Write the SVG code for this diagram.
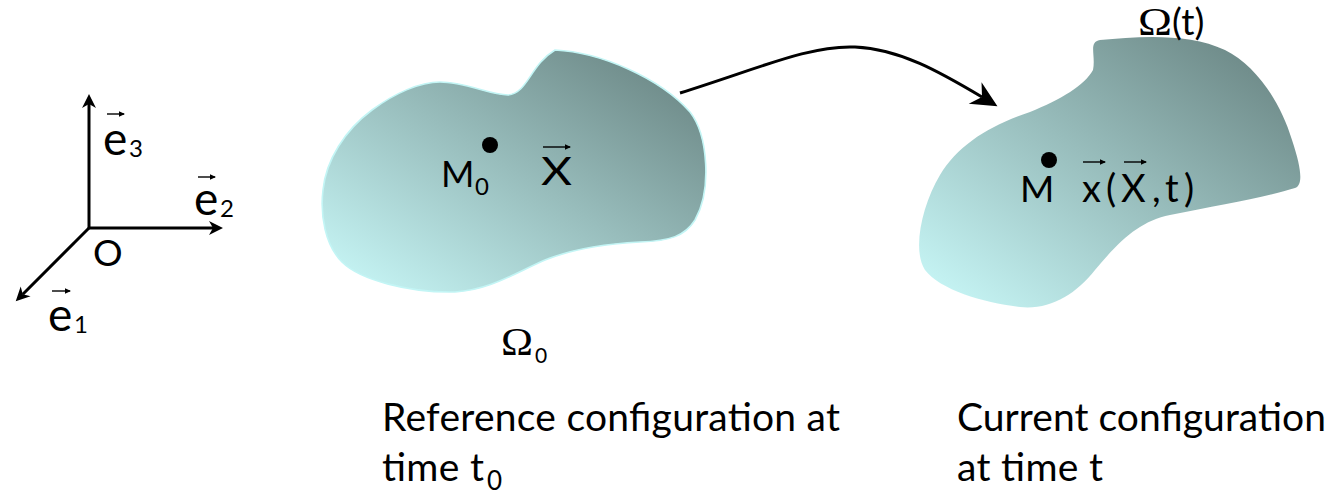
<svg xmlns="http://www.w3.org/2000/svg" width="1333" height="494" viewBox="0 0 1333 494">
  <style>
    .txt { font-family: Lato, "Open Sans", "Liberation Sans", sans-serif; fill: #000; }
    .serif { font-family: "Liberation Serif", "DejaVu Serif", serif; fill: #000; }
    .axis { stroke: #000; stroke-width: 3; fill: none; marker-end: url(#axHead); }
    .vec { stroke: #000; stroke-width: 1.4; fill: none; marker-end: url(#vecHead); }
    .map { stroke: #000; stroke-width: 3; fill: none; marker-end: url(#bigHead); }
  </style>
  <defs>
    <linearGradient id="bodyGrad" x1="0" y1="1" x2="1" y2="0">
      <stop offset="0" stop-color="#cbfbfb"/>
      <stop offset="0.5" stop-color="#98bdbc"/>
      <stop offset="1" stop-color="#647e7c"/>
    </linearGradient>
    <marker id="axHead" markerUnits="userSpaceOnUse" viewBox="-15 -8 16 16" refX="-10" refY="0" markerWidth="16" markerHeight="16" orient="auto" overflow="visible">
      <path d="M0,0 L-14,-7 L-10,0 L-14,7 Z" fill="#000"/>
    </marker>
    <marker id="vecHead" markerUnits="userSpaceOnUse" viewBox="-7 -4 8 8" refX="-1" refY="0" markerWidth="8" markerHeight="8" orient="auto" overflow="visible">
      <path d="M0,0 L-6,-2.8 L-6,2.8 Z" fill="#000"/>
    </marker>
    <marker id="bigHead" markerUnits="userSpaceOnUse" viewBox="-27 -14 28 28" refX="-18" refY="0" markerWidth="28" markerHeight="28" orient="auto" overflow="visible">
      <path d="M0,0 L-26,-12.5 L-18,0 L-26,12.5 Z" fill="#000"/>
    </marker>
  </defs>

  <g id="axes">
    <line class="axis" x1="89" y1="228" x2="89" y2="104"/>
    <line class="axis" x1="89" y1="228" x2="213" y2="228"/>
    <line class="axis" x1="89" y1="228" x2="22.8" y2="294.2"/>
    <g id="label-e3">
      <line class="vec" x1="107" y1="114" x2="124" y2="114"/>
      <text class="txt" x="103" y="155" font-size="46">e</text>
      <text class="txt" x="129" y="157" font-size="24">3</text>
    </g>
    <g id="label-e2">
      <line class="vec" x1="198" y1="177" x2="215" y2="177"/>
      <text class="txt" x="194" y="215" font-size="46">e</text>
      <text class="txt" x="220" y="217" font-size="24">2</text>
    </g>
    <g id="label-e1">
      <line class="vec" x1="52" y1="291" x2="70" y2="291"/>
      <text class="txt" x="48" y="331" font-size="46">e</text>
      <text class="txt" x="74" y="333" font-size="24">1</text>
    </g>
    <text id="label-O" class="txt" x="93" y="266" font-size="37">O</text>
  </g>

  <g id="reference-body">
    <path d="M555,50 C600,52 660,78 690,112 C708,135 712,190 695,220 C685,236 670,241 640,242 C600,244 570,250 545,260 C515,273 490,290 455,292 C410,293 360,280 342,262 C325,245 320,215 323,190 C326,160 345,130 372,110 C395,93 420,82 440,82 C465,82 490,95 508,95 C528,93 530,65 555,50 Z" fill="url(#bodyGrad)" stroke="#c3f5f5" stroke-width="1.6"/>
    <circle cx="490" cy="145" r="8" fill="#000"/>
    <text class="txt" x="441" y="187" font-size="36">M</text>
    <text class="txt" x="475" y="195" font-size="24">0</text>
    <line class="vec" x1="543" y1="147" x2="570" y2="147"/>
    <text class="txt" x="541" y="185" font-size="38" textLength="31" lengthAdjust="spacingAndGlyphs">X</text>
  </g>

  <g id="current-body">
    <path d="M1100,40 C1140,36 1190,33 1225,50 C1255,65 1280,100 1292,140 C1302,170 1303,185 1295,188 C1270,196 1220,205 1170,215 C1140,221 1120,240 1095,270 C1075,295 1050,310 1020,307 C985,303 940,290 925,270 C912,250 922,205 940,175 C958,145 990,125 1030,112 C1060,100 1085,85 1093,70 C1096,55 1088,42 1100,40 Z" fill="url(#bodyGrad)"/>
    <circle cx="1049" cy="160" r="8" fill="#000"/>
    <text class="txt" x="1020" y="202" font-size="37">M</text>
    <line class="vec" x1="1083" y1="162" x2="1105" y2="162"/>
    <line class="vec" x1="1124" y1="162" x2="1146" y2="162"/>
    <text class="txt" y="202" font-size="38"><tspan x="1082">x</tspan><tspan x="1106">(</tspan><tspan x="1121">X</tspan><tspan x="1152">,</tspan><tspan x="1165">t</tspan><tspan x="1184">)</tspan></text>
  </g>

  <g id="label-omega0">
    <text class="serif" x="501" y="355" font-size="39" textLength="32" lengthAdjust="spacingAndGlyphs">Ω</text>
    <text class="txt" x="535" y="363" font-size="21">0</text>
  </g>

  <g id="label-omegat">
    <text class="serif" x="1138" y="35" font-size="39" textLength="34" lengthAdjust="spacingAndGlyphs">Ω</text>
    <text class="txt" x="1172" y="35" font-size="37">(t)</text>
  </g>

  <g id="caption-reference">
    <text class="txt" x="382" y="431" font-size="39" textLength="458">Reference configuration at</text>
    <text class="txt" x="382" y="481" font-size="39" textLength="102">time t</text>
    <text class="txt" x="487" y="490" font-size="26">0</text>
  </g>

  <g id="caption-current">
    <text class="txt" x="957" y="431" font-size="39" textLength="369">Current configuration</text>
    <text class="txt" x="957" y="481" font-size="39" textLength="146">at time t</text>
  </g>

  <g id="connectors">
    <path class="map" d="M680,93 C760,68 810,45 855,47 C900,49 940,72 982,97"/>
  </g>
</svg>
